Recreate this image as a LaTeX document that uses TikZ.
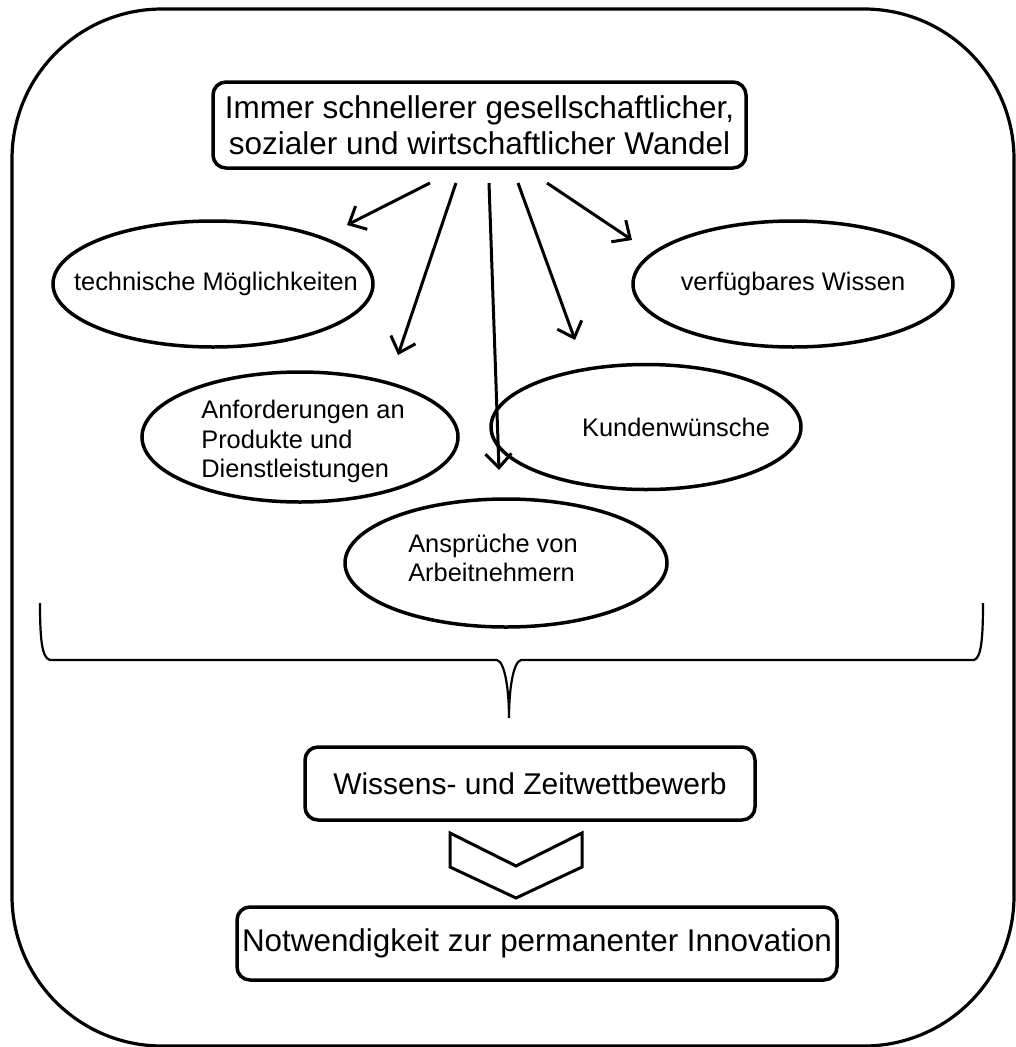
\documentclass[tikz,border=0pt]{standalone}
\usepackage{fontspec}
\setmainfont{Liberation Sans}
\usetikzlibrary{shapes.geometric,arrows.meta}
\begin{document}
\begin{tikzpicture}[x=1pt,y=-1pt,
  frame/.style={draw, line width=3.2pt, rounded corners=150pt},
  box/.style={draw, line width=3.5pt, rounded corners=13pt, inner sep=0pt, align=center},
  oval/.style={draw, ellipse, line width=3.5pt, inner sep=0pt},
  ovaltext/.style={inner sep=0pt, align=left, font=\fontsize{25.4}{29.5}\selectfont},
  arr/.style={line width=3pt, -{Straight Barb[length=14pt,width=26pt]}},
  bracepath/.style={line width=2.2pt},
  chevron/.style={draw, line width=3pt, fill=white, line join=miter}]
\useasboundingbox (0,0) rectangle (1015,1047);

% outer frame
\draw[frame] (12,9) rectangle (1014,1046);

% cause box
\node[box, minimum width=533pt, minimum height=86pt,
      font=\fontsize{31.5}{36}\selectfont] (wandel) at (479.5,125)
  {Immer schnellerer gesellschaftlicher,\\sozialer und wirtschaftlicher Wandel};

% consequences: outlines
\node[oval, minimum width=320pt, minimum height=126pt] (tech)   at (213,284) {};
\node[oval, minimum width=320pt, minimum height=126pt] (wissen) at (793,284) {};
\node[oval, minimum width=316pt, minimum height=130pt] (anf)    at (300,437) {};
\node[oval, minimum width=310pt, minimum height=125pt] (kunden) at (646,427) {};
\node[oval, minimum width=322pt, minimum height=128pt] (ansp)   at (506,563) {};

% consequences: labels
\node[ovaltext] (techT)   at ([xshift=3pt]tech.center)    {technische Möglichkeiten};
\node[ovaltext] (wissenT) at (wissen.center)              {verfügbares Wissen};
\node[ovaltext] (anfT)    at ([xshift=3pt,yshift=-4.5pt]anf.center) {Anforderungen an\\Produkte und\\Dienstleistungen};
\node[ovaltext] (kundenT) at ([xshift=30pt]kunden.center) {Kundenwünsche};
\node[ovaltext] (anspT)   at ([xshift=-13pt,yshift=5pt]ansp.center) {Ansprüche von\\Arbeitnehmern};

% arrow start and end points
\coordinate (s1) at (430,183); \coordinate (e1) at (347,225);
\coordinate (s2) at (456,183); \coordinate (e2) at (398,355);
\coordinate (s3) at (489,183); \coordinate (e3) at (499,470);
\coordinate (s4) at (518,183); \coordinate (e4) at (575,340);
\coordinate (s5) at (547,183); \coordinate (e5) at (632,240);
\foreach \i in {1,...,5} \draw[arr] (s\i) -- (e\i);

% brace collecting all factors
\draw[bracepath] (40,603) .. controls (40,640) and (42,658) .. (50,660)
  -- (497,660) .. controls (505,662) and (509,690) .. (509,718)
  .. controls (509,690) and (513,662) .. (521,660)
  -- (974,660) .. controls (981,658) and (983,640) .. (983,603);

% results
\node[box, minimum width=450pt, minimum height=73pt,
      font=\fontsize{30}{34}\selectfont] (wett) at (530,783.5) {Wissens- und Zeitwettbewerb};
\draw[chevron] (450,833) -- (516,866) -- (582,833) -- (582,867) -- (516,898) -- (450,867) -- cycle;
\node[box, minimum width=600pt, minimum height=73pt,
      font=\fontsize{31.4}{36}\selectfont] (innov) at (537,943.5) {Notwendigkeit zur permanenter Innovation};
\end{tikzpicture}
\end{document}
